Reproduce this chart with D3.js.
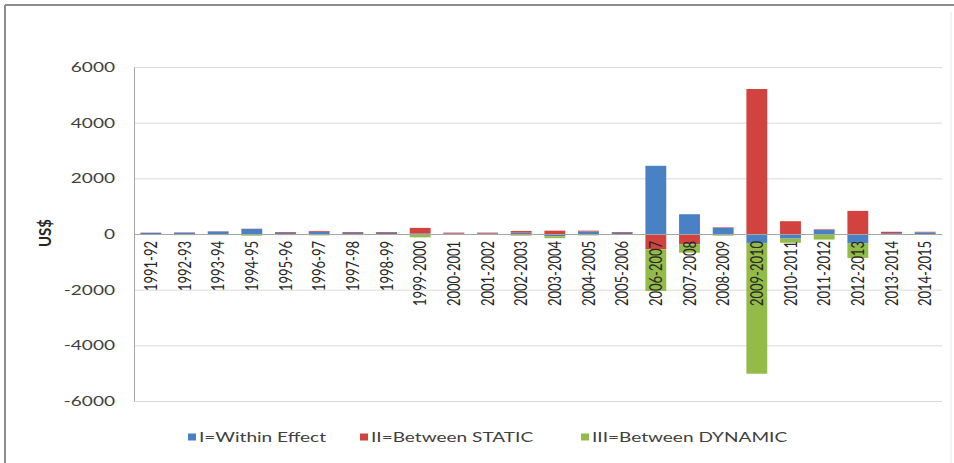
<!DOCTYPE html>
<html>
<head>
<meta charset="utf-8">
<script src="https://cdn.jsdelivr.net/npm/d3@7"></script>
<style>
  body { margin: 0; background: #fff; }
  svg { display: block; font-family: Lato, "Open Sans", sans-serif; }
</style>
</head>
<body>
<svg id="chart" width="954" height="463"></svg>
<script>
// data (US$)
var years = ['1991-92','1992-93','1993-94','1994-95','1995-96','1996-97','1997-98','1998-99',
  '1999-2000','2000-2001','2001-2002','2002-2003','2003-2004','2004-2005','2005-2006',
  '2006-2007','2007-2008','2008-2009','2009-2010','2010-2011','2011-2012','2012-2013',
  '2013-2014','2014-2015'];
var within = [40, 50, 90, 180, 40, 80, 40, 40, 20, 20, 20, 50, -80, 90, 40,
  2450, 710, 220, -320, -165, 150, -330, 30, 60];
var betweenStatic = [10, 10, 10, 10, 30, 30, 30, 30, 200, 30, 30, 60, 120, 30, 30,
  -550, -370, 20, 5210, 460, 20, 830, 50, 20];
var betweenDynamic = [-30, -40, -40, -60, -40, -50, -40, -30, -120, -30, -30, -60, -70, -50, -30,
  -1500, -300, -60, -4700, -150, -200, -530, -20, -20];
var seriesNames = ['I=Within Effect', 'II=Between STATIC', 'III=Between DYNAMIC'];
var colors = ['#4A80C4', '#D2433F', '#92BB48'];
var yTicks = [-6000, -4000, -2000, 0, 2000, 4000, 6000];

var svg = d3.select('#chart');
var plotLeft = 134, plotRight = 942, plotTop = 67, plotBottom = 401;
var stretch = 1.36; // the source picture is widened, so its text is too

// outer frame
svg.append('line').attr('x1', 5).attr('y1', 5).attr('x2', 954).attr('y2', 5)
  .attr('stroke', '#8c8c8c').attr('stroke-width', 2);
svg.append('line').attr('x1', 5).attr('y1', 5).attr('x2', 5).attr('y2', 463)
  .attr('stroke', '#8c8c8c').attr('stroke-width', 2);
svg.append('line').attr('x1', 951).attr('y1', 12).attr('x2', 951).attr('y2', 463)
  .attr('stroke', '#e6e6e6').attr('stroke-width', 1);

var x = d3.scaleBand().domain(years).range([plotLeft, plotRight])
  .paddingInner(0.38).paddingOuter(0.19);
var y = d3.scaleLinear().domain([-6000, 6000]).range([plotBottom, plotTop]);

// gridlines
var grid = svg.append('g').attr('transform', 'translate(' + plotLeft + ',0)')
  .call(d3.axisLeft(y).tickValues(yTicks).tickSize(-(plotRight - plotLeft)).tickFormat(''));
grid.select('.domain').remove();
grid.selectAll('line').attr('stroke', '#d9d9d9');

// y axis labels (plain hyphen for minus, like Excel)
var yAxis = svg.append('g').attr('transform', 'translate(' + plotLeft + ',0)')
  .call(d3.axisLeft(y).tickValues(yTicks).tickSize(0).tickFormat(function(d) { return String(d); }));
yAxis.select('.domain').attr('stroke', '#a6a6a6');
yAxis.selectAll('text').attr('font-size', 14).attr('fill', '#404040')
  .attr('font-family', 'Lato, sans-serif')
  .attr('x', 0)
  .attr('transform', 'translate(-19,0) scale(' + stretch + ',1)');

// stacked bars (diverging like Excel)
var rows = years.map(function(d, i) {
  return { year: d, s0: within[i], s1: betweenStatic[i], s2: betweenDynamic[i] };
});
var stack = d3.stack().keys(['s0', 's1', 's2']).offset(d3.stackOffsetDiverging);
var layers = stack(rows);

svg.append('g').selectAll('g').data(layers).join('g')
  .attr('fill', function(d, i) { return colors[i]; })
  .selectAll('rect').data(function(d) { return d; }).join('rect')
  .attr('x', function(d) { return x(d.data.year); })
  .attr('width', x.bandwidth())
  .attr('y', function(d) { return y(Math.max(d[0], d[1])); })
  .attr('height', function(d) { return Math.abs(y(d[0]) - y(d[1])); });

// category axis at zero
var xAxis = svg.append('g').attr('transform', 'translate(0,' + y(0) + ')')
  .call(d3.axisBottom(x).tickSize(0).tickPadding(0));
xAxis.select('.domain').attr('stroke', '#a6a6a6');
xAxis.selectAll('text')
  .attr('font-size', 13).attr('fill', '#262626')
  .attr('font-family', 'Lato, sans-serif')
  .attr('text-anchor', 'end')
  .attr('transform', 'rotate(-90) scale(1,' + stretch + ')')
  .attr('x', -7).attr('y', 0).attr('dy', '0.35em');

// y axis title
svg.append('text').attr('transform', 'translate(45,233) rotate(-90) scale(1,1.15)')
  .attr('text-anchor', 'middle').attr('dy', '0.35em')
  .attr('font-size', 15).attr('font-weight', 'bold')
  .attr('fill', '#262626').text('US$');

// legend
var legendX = [188, 360, 581];
var legend = svg.append('g').selectAll('g').data(seriesNames).join('g')
  .attr('transform', function(d, i) { return 'translate(' + legendX[i] + ',437)'; });
legend.append('rect').attr('x', 0).attr('y', -3.5).attr('width', 8).attr('height', 7)
  .attr('fill', function(d, i) { return colors[i]; });
legend.append('text')
  .attr('transform', 'translate(11,0) scale(' + stretch + ',1)')
  .attr('dy', '0.35em')
  .attr('font-size', 14).attr('fill', '#404040').text(function(d) { return d; });
</script>
</body>
</html>
